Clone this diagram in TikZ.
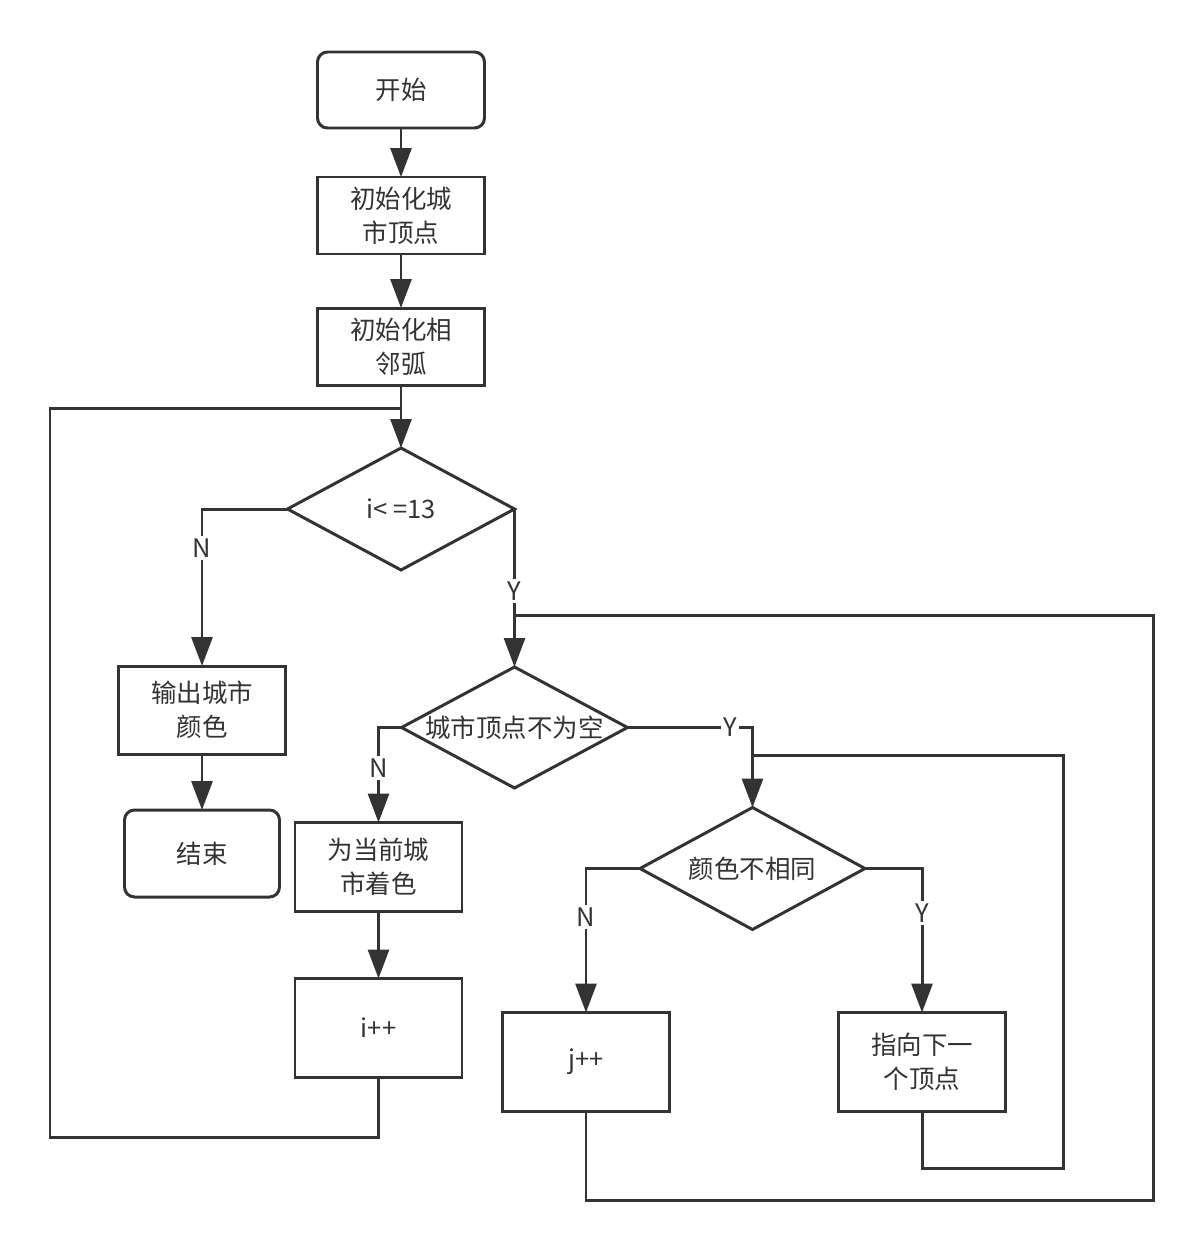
\documentclass[tikz,border=0pt]{standalone}
\usepackage{fontspec}
\setmainfont{Noto Sans CJK SC}
\usepackage{tikz}
\usetikzlibrary{arrows.meta, positioning, shapes.geometric}
\definecolor{linegray}{HTML}{333333}

\begin{document}
\begin{tikzpicture}[
  node distance=1cm,
  every node/.style={font=\fontsize{14.5}{19.4}\selectfont, text=linegray},
  boxstep/.style={draw=linegray, line width=1.7pt, minimum width=3.34cm, minimum height=1.54cm, align=center, inner sep=0pt, outer sep=0pt},
  startstop/.style={boxstep, rounded corners=0.2cm},
  decide/.style={draw=linegray, line width=1.7pt, diamond, aspect=1.86, minimum width=4.54cm, minimum height=2.44cm, inner sep=0pt, outer sep=0pt},
  yesno/.style={fill=white, inner sep=1.5pt},
  arrow/.style={-{Triangle[length=0.58cm, width=0.42cm]}, line width=1.7pt, linegray},
  loopline/.style={line width=1.7pt, linegray},
]
\useasboundingbox (0,0) rectangle (24.06,-25.02);

% Main column
\node[startstop, minimum height=1.52cm] (start) at (8.02,-1.80) {开始};
\node[boxstep, below=0.98cm of start] (initv) {初始化城\\市顶点};
\node[boxstep, below=1.08cm of initv] (inite) {初始化相\\邻弧};
\node[decide, below=1.26cm of inite] (ifi) {\makebox[0pt]{i< =13}};

% Exit branch
\node[boxstep, minimum height=1.76cm, below left=3.14cm and 0.04cm of ifi.west] (output) {输出城市\\颜色};
\node[startstop, minimum width=3.10cm, minimum height=1.74cm, below=1.12cm of output] (stop) {结束};

% Inner loops
\node[decide, minimum width=4.52cm, minimum height=2.42cm, below=3.16cm of ifi.east] (ifcity) {\makebox[0pt]{城市顶点不为空}};
\node[boxstep, minimum height=1.78cm, below=1.90cm of ifcity.west, xshift=-0.46cm] (paint) {为当前城\\市着色};
\node[boxstep, minimum height=1.98cm, below=1.34cm of paint] (incri) {i++};
\node[decide, minimum width=4.50cm, below=1.60cm of ifcity.east, xshift=2.50cm] (ifcolor) {\makebox[0pt]{颜色不相同}};
\node[boxstep, minimum height=1.98cm, below=2.88cm of ifcolor.west, xshift=-1.08cm] (incrj) {j++};
\node[boxstep, minimum height=1.98cm, below=2.88cm of ifcolor.east, xshift=1.14cm] (nextv) {指向下一\\个顶点};

% Join points of the loops
\coordinate (joini) at ([yshift=-0.46cm]inite.south);
\coordinate (joinj) at ([yshift=-2.12cm]ifi.east);
\coordinate (joinv) at ([xshift=2.50cm, yshift=-0.56cm]ifcity.east);

% Arrows
\draw[arrow] (start) -- (initv);
\draw[arrow] (initv) -- (inite);
\draw[arrow] (inite) -- (ifi);
\draw[arrow] (ifi.west) -| (output) node[yesno, pos=0.625] {N};
\draw[arrow] (output) -- (stop);
\draw[arrow] (ifi.east) -- (ifcity) node[yesno, pos=0.52] {Y};
\draw[arrow] (ifcity.west) -| (paint) node[yesno, pos=0.715] {N};
\draw[arrow] (paint) -- (incri);
\draw[arrow] (ifcity.east) -| (ifcolor) node[yesno, pos=0.41] {Y};
\draw[arrow] (ifcolor.west) -| (incrj) node[yesno, pos=0.67] {N};
\draw[arrow] (ifcolor.east) -| (nextv) node[yesno, pos=0.656] {Y};

% Back edges
\draw[loopline] (incri.south) |- (1.00,-22.74) |- (joini);
\draw[loopline] (incrj.south) |- (23.06,-24.00) |- (joinj);
\draw[loopline] (nextv.south) |- (21.26,-23.36) |- (joinv);

\end{tikzpicture}
\end{document}
